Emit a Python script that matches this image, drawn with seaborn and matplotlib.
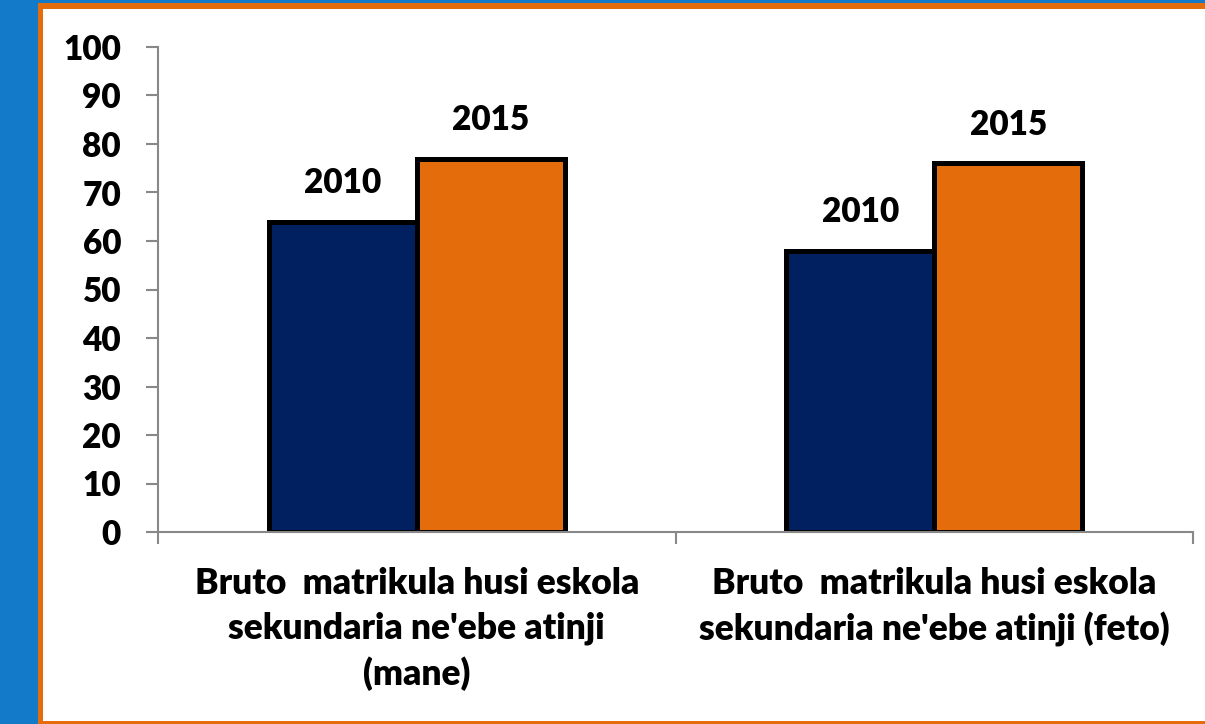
import matplotlib
matplotlib.use("Agg")
import matplotlib.pyplot as plt
from matplotlib.patches import Rectangle
from matplotlib.ticker import FixedLocator
import seaborn as sns
import pandas as pd

categories = ["Bruto  matrikula husi eskola\nsekundaria ne'ebe atinji\n(mane)",
              "Bruto  matrikula husi eskola\nsekundaria ne'ebe atinji (feto)"]
years = ["2010", "2015"]
values_2010 = [64, 58]
values_2015 = [77, 76]
y_ticks = [0, 10, 20, 30, 40, 50, 60, 70, 80, 90, 100]

df = pd.DataFrame({
    "category": categories * 2,
    "year": [years[0]] * 2 + [years[1]] * 2,
    "value": values_2010 + values_2015,
})

sns.set_theme(style="white")
plt.rcParams['font.family'] = ['Lato', 'DejaVu Sans']
plt.rcParams['font.weight'] = 'heavy'
FW = 'heavy'

W, H = 1205, 724
fig = plt.figure(figsize=(W / 100, H / 100), dpi=100)
fig.patch.set_facecolor("#127AC8")

# orange frame and white panel (figure pixel coords -> fraction)
def frac_rect(x0, y0, x1, y1, color, z):
    r = Rectangle((x0 / W, 1 - y1 / H), (x1 - x0) / W, (y1 - y0) / H,
                  transform=fig.transFigure, facecolor=color, edgecolor="none", zorder=z)
    fig.patches.append(r)

frac_rect(38, 3, 1215, 730, "#E46C0A", -2)
frac_rect(43, 9, 1215, 721, "white", -1)

ax = fig.add_axes([158 / W, 1 - 532 / H, (1193 - 158) / W, (532 - 47) / H])
ax.set_facecolor("none")
ax.set_zorder(1)

sns.barplot(data=df, x="category", y="value", hue="year", order=categories,
            hue_order=years, palette=["#002060", "#E46C0A"], width=0.572,
            edgecolor="black", linewidth=3.6, saturation=1, ax=ax, legend=False)

for cont, yr in zip(ax.containers, years):
    ax.bar_label(cont, labels=[yr] * len(cont), padding=16, fontsize=24,
                 fontweight=FW, color="black")

ax.set_xlim(-0.5, 1.5)
ax.set_ylim(0, 100)
ax.set_yticks(y_ticks)
ax.set_xlabel("")
ax.set_ylabel("")

for s in ["top", "right"]:
    ax.spines[s].set_visible(False)
for s in ["left", "bottom"]:
    ax.spines[s].set_color("#888888")
    ax.spines[s].set_linewidth(1.5)

ax.tick_params(axis="y", which="major", direction="out", length=8.6, width=1.5,
               color="#888888", labelsize=24, pad=18, left=True)
ax.tick_params(axis="x", which="major", length=0, labelsize=25.5, pad=25)
ax.xaxis.set_minor_locator(FixedLocator([-0.5, 0.5, 1.5]))
ax.tick_params(axis="x", which="minor", direction="out", length=8.6, width=1.5,
               color="#888888", bottom=True)
for lbl in ax.get_xticklabels():
    lbl.set_fontweight(FW)
    lbl.set_linespacing(1.42)
    lbl.set_color("black")
for lbl in ax.get_yticklabels():
    lbl.set_fontweight(FW)
    lbl.set_color("black")

fig.savefig("out.png", dpi=100)
